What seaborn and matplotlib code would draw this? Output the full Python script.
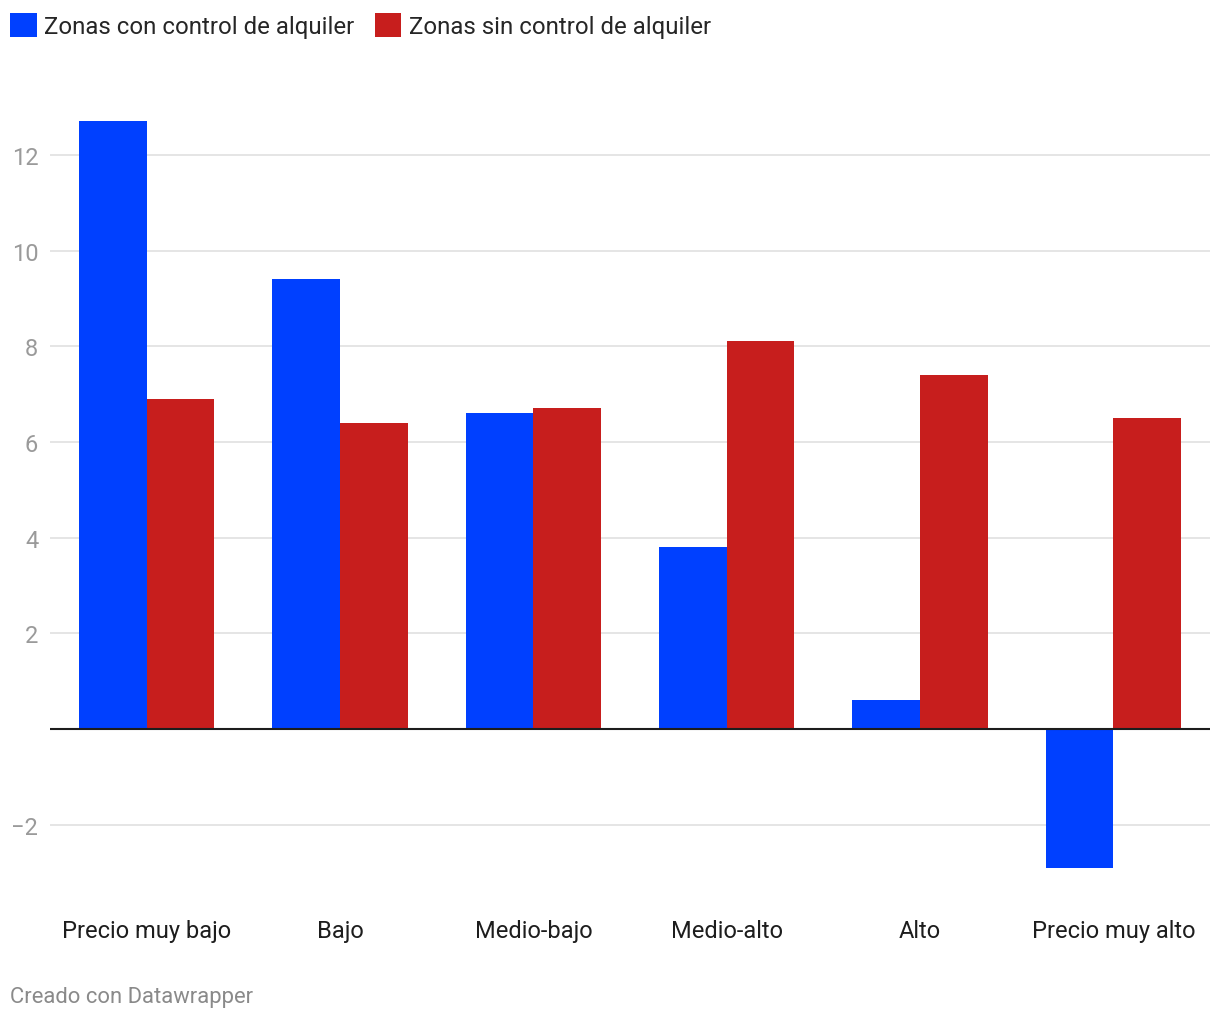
import pandas as pd
import matplotlib.pyplot as plt
import seaborn as sns

# Datos
categorias = ['Precio muy bajo', 'Bajo', 'Medio-bajo', 'Medio-alto', 'Alto', 'Precio muy alto']
con_control = [12.7, 9.4, 6.6, 3.8, 0.6, -2.9]
sin_control = [6.9, 6.4, 6.7, 8.1, 7.4, 6.5]
series = ['Zonas con control de alquiler', 'Zonas sin control de alquiler']
colores = ['#0040FF', '#C71E1D']
yticks = [-2, 2, 4, 6, 8, 10, 12]

df = pd.DataFrame({
    'categoria': categorias * 2,
    'serie': [series[0]] * len(categorias) + [series[1]] * len(categorias),
    'valor': con_control + sin_control,
})

sns.set_theme(style='white')
plt.rcParams['font.family'] = ['Roboto', 'DejaVu Sans']

fig = plt.figure(figsize=(12.2, 10.2), dpi=100)
ax = fig.add_axes([0.041, 0.1436, 0.9508, 0.7505])

sns.barplot(data=df, x='categoria', y='valor', hue='serie', order=categorias,
            hue_order=series, palette=dict(zip(series, colores)),
            width=0.7, gap=0, saturation=1, errorbar=None, linewidth=0,
            ax=ax, zorder=2)

ax.set_xlim(-0.5, len(categorias) - 0.5)
ax.set_ylim(-3, 13)
ax.set_yticks(yticks)
ax.set_yticklabels(['\u22122' if t < 0 else str(t) for t in yticks])
ax.yaxis.grid(True, color='#e3e3e3', lw=1.3, zorder=0)
ax.set_axisbelow(True)
ax.axhline(0, color='#1d1d1d', lw=1.5, zorder=3)
for s in ax.spines.values():
    s.set_visible(False)
ax.set_xlabel('')
ax.set_ylabel('')
ax.tick_params(axis='y', length=0, pad=8.5, labelsize=17, labelcolor='#9a9a9a')
ax.tick_params(axis='x', length=0, pad=33.5, labelsize=17, labelcolor='#1d1d1d')

# Leyenda arriba
handles, labels = ax.get_legend_handles_labels()
ax.get_legend().remove()
fig.legend(handles, labels, loc='upper left', bbox_to_anchor=(0.008, 0.986),
           ncol=2, frameon=False, fontsize=17.3, handlelength=1.12, handleheight=1.17,
           handletextpad=0.3, columnspacing=0.85, borderpad=0, borderaxespad=0)

fig.text(0.008, 0.0225, 'Creado con Datawrapper', fontsize=15.8, color='#8a8a8a',
         ha='left', va='center')

fig.savefig('out.png', dpi=100)
